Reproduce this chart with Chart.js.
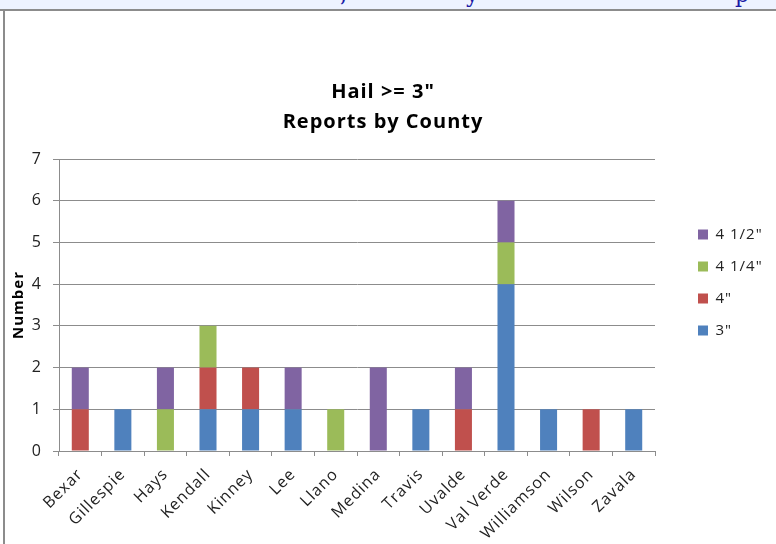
<!DOCTYPE html>
<html>
<head>
<meta charset="utf-8">
<script src="https://cdn.jsdelivr.net/npm/chart.js@4.4.0/dist/chart.umd.min.js"></script>
<style>
  html, body { margin: 0; padding: 0; background: #fff; width: 776px; height: 544px; overflow: hidden; }
  #strip { position: absolute; left: 0; top: 0; width: 776px; height: 9px; background: #eef3ff; border-bottom: 2px solid #8c8c8c; overflow: hidden; }
  #strip span { position: absolute; top: -18px; font: 22px "DejaVu Serif", serif; color: #1a1aa6; }
  #frame { position: absolute; left: 3px; top: 11px; width: 800px; height: 600px; border-left: 2px solid #8c8c8c; }
  #hail { position: absolute; left: 0; top: 0; }
</style>
</head>
<body>
<div id="strip"><span style="left:340px">,</span><span style="left:466px">y</span><span style="left:735px">p</span></div>
<div id="frame"></div>
<canvas id="hail" width="776" height="544"></canvas>
<script>
const counties = ['Bexar', 'Gillespie', 'Hays', 'Kendall', 'Kinney', 'Lee', 'Llano',
  'Medina', 'Travis', 'Uvalde', 'Val Verde', 'Williamson', 'Wilson', 'Zavala']
const hail3 = [0, 1, 0, 1, 1, 1, 0, 0, 1, 0, 4, 1, 0, 1]
const hail4 = [1, 0, 0, 1, 1, 0, 0, 0, 0, 1, 0, 0, 1, 0]
const hail4q = [0, 0, 1, 1, 0, 0, 1, 0, 0, 0, 1, 0, 0, 0]
const hail4h = [1, 0, 1, 0, 0, 1, 0, 2, 0, 1, 1, 0, 0, 0]

const FONT = '"Open Sans", sans-serif'
const SPACING = '1px'
const GRID = '#8c8c8c'

Chart.defaults.font.family = FONT
Chart.defaults.color = '#222'

// Excel-like tweaks: letter spacing, fixed legend box, legend shifted right
const excelLook = {
  id: 'excelLook',
  beforeLayout(chart) {
    chart.ctx.letterSpacing = SPACING
    const lg = chart.legend
    if (lg && !lg._patched) {
      const fit = lg.fit
      lg.fit = function () {
        fit.call(this)
        this.width = 106
      }
      lg._patched = true
    }
  },
  afterLayout(chart) {
    const lg = chart.legend
    lg.left += 26
    lg.right += 26
    lg.top -= 28
    lg.bottom -= 28
  },
  beforeDraw(chart) {
    chart.ctx.letterSpacing = SPACING
  },
}

const ctxHail = document.getElementById('hail').getContext('2d')

const hailChart = new Chart(ctxHail, {
  type: 'bar',
  data: {
    labels: counties,
    datasets: [
      { label: '3"', data: hail3, backgroundColor: '#4f81bd' },
      { label: '4"', data: hail4, backgroundColor: '#c0504d' },
      { label: '4 1/4"', data: hail4q, backgroundColor: '#9bbb59' },
      { label: '4 1/2"', data: hail4h, backgroundColor: '#8064a2' },
    ],
  },
  plugins: [excelLook],
  options: {
    responsive: false,
    animation: false,
    barPercentage: 0.4,
    categoryPercentage: 1,
    layout: { padding: { left: 5, top: 77, right: 15, bottom: 0 } },
    plugins: {
      title: {
        display: true,
        text: ['Hail >= 3"', 'Reports by County'],
        color: '#000',
        font: { size: 20, weight: 'bold', lineHeight: 1.5 },
        padding: { top: 0, bottom: 22 },
      },
      legend: {
        position: 'right',
        reverse: true,
        labels: {
          boxWidth: 10,
          boxHeight: 10,
          padding: 17,
          color: '#222',
          font: { size: 15 },
        },
      },
      tooltip: { enabled: false },
    },
    scales: {
      x: {
        stacked: true,
        grid: { drawOnChartArea: false, tickLength: 5, color: GRID },
        border: { color: GRID },
        ticks: { minRotation: 45, maxRotation: 45, padding: 9, font: { size: 16 } },
        afterFit: scale => { scale.height = 93 },
      },
      y: {
        stacked: true,
        min: 0,
        max: 7,
        grid: { color: GRID, tickLength: 6 },
        border: { color: GRID },
        ticks: { stepSize: 1, padding: 11, font: { size: 16 } },
        title: {
          display: true,
          text: 'Number',
          color: '#000',
          font: { size: 15, weight: 'bold' },
          padding: { top: 5, bottom: 0 },
        },
        afterFit: scale => { scale.width = 54 },
      },
    },
  },
})
</script>
</body>
</html>
